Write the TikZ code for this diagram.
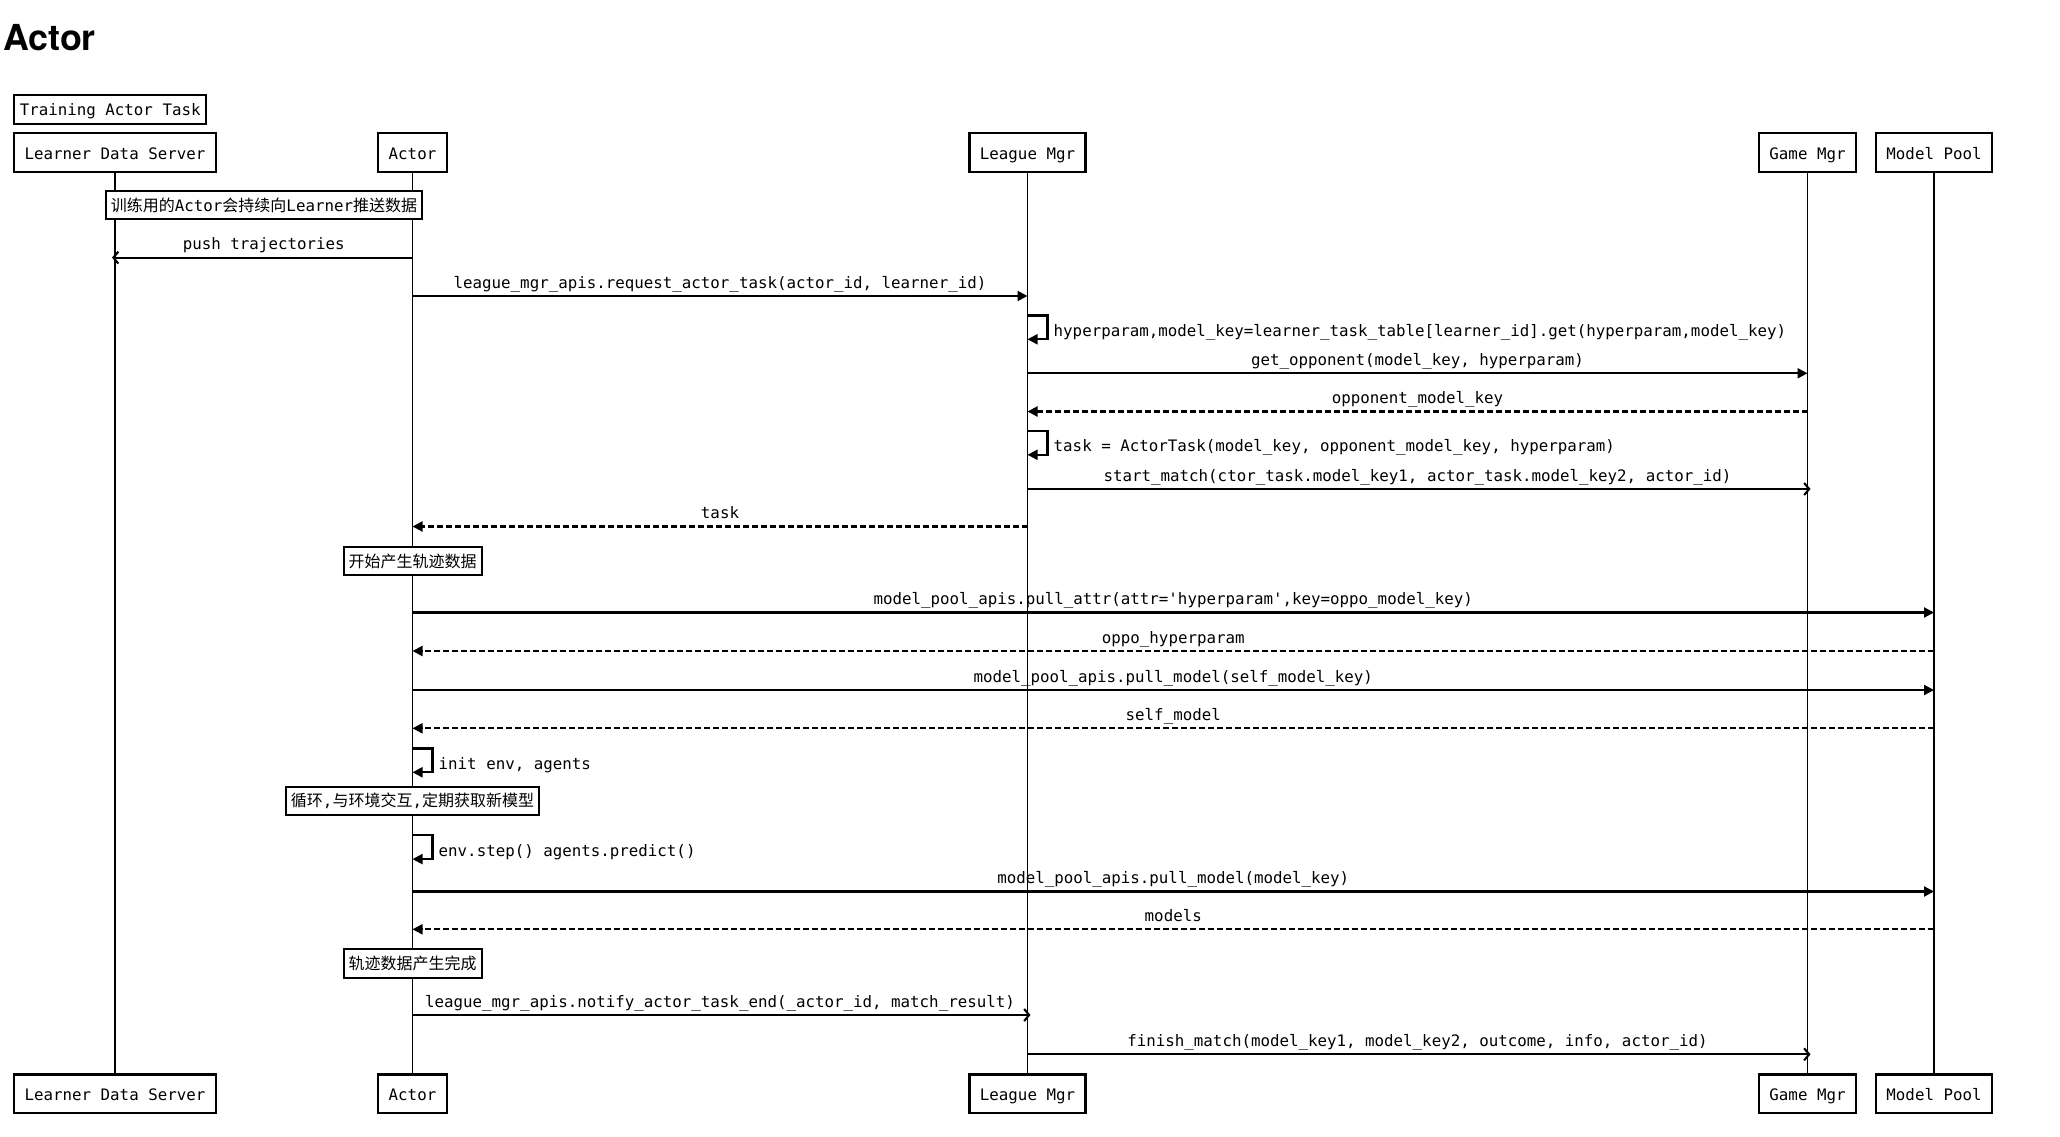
\documentclass[tikz,border=0pt]{standalone}
\usepackage{fontspec}
\usetikzlibrary{arrows.meta}
\newfontfamily\dmono{DejaVu Sans Mono}
\newfontfamily\cjk{Noto Sans CJK SC}
\newfontfamily\titlefont{TeX Gyre Heros}
\newcommand\cn[1]{{\cjk\fontsize{16}{18}\selectfont #1}}
\tikzset{
  every node/.style={font=\dmono\fontsize{15.8}{18}\selectfont},
  part/.style={draw, line width=2.2pt, inner xsep=10.5pt, inner ysep=0pt, text height=13pt, text depth=0pt, minimum height=38.4pt},
  notebox/.style={draw, fill=white, line width=2pt, inner xsep=5pt, inner ysep=0pt, text height=12pt, text depth=0pt, minimum height=28.5pt},
  life/.style={line width=1.9pt},
  call/.style={line width=2.1pt, -{Triangle[length=10pt,width=10pt]}},
  async/.style={line width=2.1pt, -{Straight Barb[length=5pt,width=12pt]}, shorten >=-3pt},
  reply/.style={line width=2.1pt, dash pattern=on 6pt off 3pt, -{Triangle[length=10pt,width=10pt]}},
  lbl/.style={anchor=base, yshift=8pt, inner sep=0pt},
}
\newcommand\seqmsg[5]{%
  \coordinate (row) at (0,#3);
  \draw[#5] (#1 |- row) -- (#2 |- row) node[midway, lbl] {#4};}
\newcommand\selfmsg[3]{%
  \coordinate (rowa) at (0,#2);
  \coordinate (rowb) at (0,#2+23.8);
  \draw[call] (#1 |- rowa) -- ++(20,0) |- (#1 |- rowb);
  \path (#1 |- rowb) ++(26,-3) node[anchor=base west, inner sep=0pt] {#3};}
\begin{document}
\begin{tikzpicture}[x=1pt, y=-1pt]
\useasboundingbox (0,0) rectangle (2060,1137);
\node[anchor=base west, inner sep=0pt, font=\titlefont\bfseries\fontsize{35.8}{40}\selectfont] (title) at (3,50.7) {Actor};
\node[notebox, inner xsep=5.6pt, minimum height=29pt] (tat) at (110.2,109.2) {Training Actor Task};
% participants
\node[part] (ldsT) at (115,152.5) {Learner Data Server};
\node[part] (actT) at (412.5,152.5) {Actor};
\node[part] (lmT) at (1027.5,152.5) {League Mgr};
\node[part] (gmT) at (1807.5,152.5) {Game Mgr};
\node[part] (mpT) at (1934,152.5) {Model Pool};
\node[part] (ldsB) at (115,1093.6) {Learner Data Server};
\node[part] (actB) at (412.5,1093.6) {Actor};
\node[part] (lmB) at (1027.5,1093.6) {League Mgr};
\node[part] (gmB) at (1807.5,1093.6) {Game Mgr};
\node[part] (mpB) at (1934,1093.6) {Model Pool};
\foreach \p in {lds,act,lm,gm,mp} \draw[life] (\p T.south) -- (\p B.north);
% notes
\node[notebox] (n1) at (264,205.2) {\cn{训练用的}Actor\cn{会持续向}Learner\cn{推送数据}};
\node[notebox] (n2) at (412.5,561.2) {\cn{开始产生轨迹数据}};
\node[notebox] (n3) at (412.5,800.9) {\cn{循环},\cn{与环境交互},\cn{定期获取新模型}};
\node[notebox] (n4) at (412.5,963.5) {\cn{轨迹数据产生完成}};
% messages
\seqmsg{actT}{ldsT}{257.6}{push trajectories}{async}
\seqmsg{actT}{lmT}{296}{league\_mgr\_apis.request\_actor\_task(actor\_id, learner\_id)}{call}
\selfmsg{lmT}{315.5}{hyperparam,model\_key=learner\_task\_table[learner\_id].get(hyperparam,model\_key)}
\seqmsg{lmT}{gmT}{373.3}{get\_opponent(model\_key, hyperparam)}{call}
\seqmsg{gmT}{lmT}{411.5}{opponent\_model\_key}{reply}
\selfmsg{lmT}{431}{task = ActorTask(model\_key, opponent\_model\_key, hyperparam)}
\seqmsg{lmT}{gmT}{489}{start\_match(ctor\_task.model\_key1, actor\_task.model\_key2, actor\_id)}{async}
\seqmsg{lmT}{actT}{526.5}{task}{reply}
\seqmsg{actT}{mpT}{612.5}{model\_pool\_apis.pull\_attr(attr=\char39 hyperparam\char39,key=oppo\_model\_key)}{call}
\seqmsg{mpT}{actT}{651}{oppo\_hyperparam}{reply}
\seqmsg{actT}{mpT}{690}{model\_pool\_apis.pull\_model(self\_model\_key)}{call}
\seqmsg{mpT}{actT}{728.3}{self\_model}{reply}
\selfmsg{actT}{748.5}{init env, agents}
\selfmsg{actT}{835.3}{env.step() agents.predict()}
\seqmsg{actT}{mpT}{891.5}{model\_pool\_apis.pull\_model(model\_key)}{call}
\seqmsg{mpT}{actT}{929.3}{models}{reply}
\seqmsg{actT}{lmT}{1015}{league\_mgr\_apis.notify\_actor\_task\_end(\_actor\_id, match\_result)}{async}
\seqmsg{lmT}{gmT}{1054.3}{finish\_match(model\_key1, model\_key2, outcome, info, actor\_id)}{async}
\end{tikzpicture}
\end{document}
